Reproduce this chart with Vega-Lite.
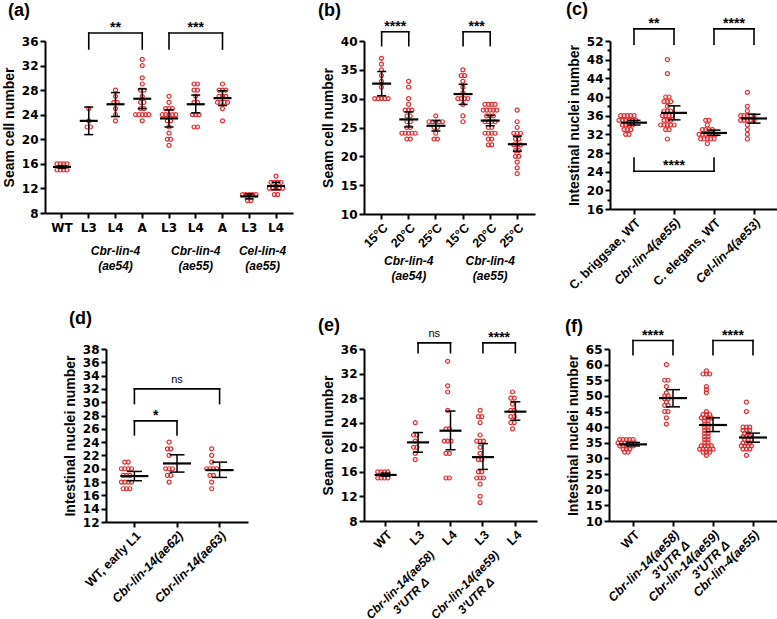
{
"$schema": "https://vega.github.io/schema/vega-lite/v6.json",
"padding": {"left": 2, "top": 0, "right": 0, "bottom": 0},
"background": "white",
"datasets": {
"pts": [
{"p":"a","c":"WT","v":15},{"p":"a","c":"WT","v":15},{"p":"a","c":"WT","v":15},{"p":"a","c":"WT","v":15},
{"p":"a","c":"WT","v":16},{"p":"a","c":"WT","v":16},{"p":"a","c":"WT","v":16},{"p":"a","c":"WT","v":16},
{"p":"a","c":"L3_54","v":25},{"p":"a","c":"L3_54","v":23},{"p":"a","c":"L3_54","v":22},{"p":"a","c":"L3_54","v":22},
{"p":"a","c":"L4_54","v":28},{"p":"a","c":"L4_54","v":27},{"p":"a","c":"L4_54","v":26},{"p":"a","c":"L4_54","v":26},{"p":"a","c":"L4_54","v":25},{"p":"a","c":"L4_54","v":24},{"p":"a","c":"L4_54","v":23},
{"p":"a","c":"A_54","v":33},{"p":"a","c":"A_54","v":32},{"p":"a","c":"A_54","v":30},{"p":"a","c":"A_54","v":29},{"p":"a","c":"A_54","v":28},{"p":"a","c":"A_54","v":28},{"p":"a","c":"A_54","v":27},{"p":"a","c":"A_54","v":26},{"p":"a","c":"A_54","v":26},{"p":"a","c":"A_54","v":25},{"p":"a","c":"A_54","v":25},{"p":"a","c":"A_54","v":24},{"p":"a","c":"A_54","v":24},{"p":"a","c":"A_54","v":24},{"p":"a","c":"A_54","v":24},{"p":"a","c":"A_54","v":24},{"p":"a","c":"A_54","v":23},
{"p":"a","c":"L3_55","v":27},{"p":"a","c":"L3_55","v":26},{"p":"a","c":"L3_55","v":25},{"p":"a","c":"L3_55","v":25},{"p":"a","c":"L3_55","v":25},{"p":"a","c":"L3_55","v":24},{"p":"a","c":"L3_55","v":24},{"p":"a","c":"L3_55","v":24},{"p":"a","c":"L3_55","v":24},{"p":"a","c":"L3_55","v":24},{"p":"a","c":"L3_55","v":23},{"p":"a","c":"L3_55","v":23},{"p":"a","c":"L3_55","v":22},{"p":"a","c":"L3_55","v":21},{"p":"a","c":"L3_55","v":20},{"p":"a","c":"L3_55","v":20},{"p":"a","c":"L3_55","v":19},
{"p":"a","c":"L4_55","v":29},{"p":"a","c":"L4_55","v":29},{"p":"a","c":"L4_55","v":28},{"p":"a","c":"L4_55","v":28},{"p":"a","c":"L4_55","v":27},{"p":"a","c":"L4_55","v":26},{"p":"a","c":"L4_55","v":26},{"p":"a","c":"L4_55","v":24},{"p":"a","c":"L4_55","v":24},{"p":"a","c":"L4_55","v":24},{"p":"a","c":"L4_55","v":22},{"p":"a","c":"L4_55","v":22},
{"p":"a","c":"A_55","v":29},{"p":"a","c":"A_55","v":28},{"p":"a","c":"A_55","v":28},{"p":"a","c":"A_55","v":28},{"p":"a","c":"A_55","v":27},{"p":"a","c":"A_55","v":27},{"p":"a","c":"A_55","v":27},{"p":"a","c":"A_55","v":26},{"p":"a","c":"A_55","v":26},{"p":"a","c":"A_55","v":26},{"p":"a","c":"A_55","v":26},{"p":"a","c":"A_55","v":25},{"p":"a","c":"A_55","v":23},
{"p":"a","c":"L3_cel","v":11},{"p":"a","c":"L3_cel","v":11},{"p":"a","c":"L3_cel","v":11},{"p":"a","c":"L3_cel","v":11},{"p":"a","c":"L3_cel","v":11},{"p":"a","c":"L3_cel","v":10},{"p":"a","c":"L3_cel","v":10},
{"p":"a","c":"L4_cel","v":14},{"p":"a","c":"L4_cel","v":13},{"p":"a","c":"L4_cel","v":13},{"p":"a","c":"L4_cel","v":13},{"p":"a","c":"L4_cel","v":13},{"p":"a","c":"L4_cel","v":12},{"p":"a","c":"L4_cel","v":12},{"p":"a","c":"L4_cel","v":12},{"p":"a","c":"L4_cel","v":12},{"p":"a","c":"L4_cel","v":12},{"p":"a","c":"L4_cel","v":11},{"p":"a","c":"L4_cel","v":11},

{"p":"b","c":"15°C_54","v":37},{"p":"b","c":"15°C_54","v":36},{"p":"b","c":"15°C_54","v":35},{"p":"b","c":"15°C_54","v":34},{"p":"b","c":"15°C_54","v":33},{"p":"b","c":"15°C_54","v":32},{"p":"b","c":"15°C_54","v":30},{"p":"b","c":"15°C_54","v":30},{"p":"b","c":"15°C_54","v":30},{"p":"b","c":"15°C_54","v":30},{"p":"b","c":"15°C_54","v":30},
{"p":"b","c":"20°C_54","v":33},{"p":"b","c":"20°C_54","v":32},{"p":"b","c":"20°C_54","v":30},{"p":"b","c":"20°C_54","v":29},{"p":"b","c":"20°C_54","v":28},{"p":"b","c":"20°C_54","v":28},{"p":"b","c":"20°C_54","v":28},{"p":"b","c":"20°C_54","v":27},{"p":"b","c":"20°C_54","v":27},{"p":"b","c":"20°C_54","v":26},{"p":"b","c":"20°C_54","v":26},{"p":"b","c":"20°C_54","v":25},{"p":"b","c":"20°C_54","v":25},{"p":"b","c":"20°C_54","v":24},{"p":"b","c":"20°C_54","v":24},{"p":"b","c":"20°C_54","v":24},{"p":"b","c":"20°C_54","v":24},{"p":"b","c":"20°C_54","v":24},{"p":"b","c":"20°C_54","v":23},{"p":"b","c":"20°C_54","v":23},
{"p":"b","c":"25°C_54","v":27},{"p":"b","c":"25°C_54","v":26},{"p":"b","c":"25°C_54","v":26},{"p":"b","c":"25°C_54","v":26},{"p":"b","c":"25°C_54","v":26},{"p":"b","c":"25°C_54","v":26},{"p":"b","c":"25°C_54","v":25},{"p":"b","c":"25°C_54","v":25},{"p":"b","c":"25°C_54","v":24},{"p":"b","c":"25°C_54","v":23},{"p":"b","c":"25°C_54","v":23},
{"p":"b","c":"15°C_55","v":35},{"p":"b","c":"15°C_55","v":34},{"p":"b","c":"15°C_55","v":34},{"p":"b","c":"15°C_55","v":33},{"p":"b","c":"15°C_55","v":32},{"p":"b","c":"15°C_55","v":31},{"p":"b","c":"15°C_55","v":30},{"p":"b","c":"15°C_55","v":30},{"p":"b","c":"15°C_55","v":30},{"p":"b","c":"15°C_55","v":30},{"p":"b","c":"15°C_55","v":29},{"p":"b","c":"15°C_55","v":27},{"p":"b","c":"15°C_55","v":26},
{"p":"b","c":"20°C_55","v":29},{"p":"b","c":"20°C_55","v":29},{"p":"b","c":"20°C_55","v":29},{"p":"b","c":"20°C_55","v":29},{"p":"b","c":"20°C_55","v":28},{"p":"b","c":"20°C_55","v":28},{"p":"b","c":"20°C_55","v":28},{"p":"b","c":"20°C_55","v":28},{"p":"b","c":"20°C_55","v":28},{"p":"b","c":"20°C_55","v":27},{"p":"b","c":"20°C_55","v":27},{"p":"b","c":"20°C_55","v":27},{"p":"b","c":"20°C_55","v":26},{"p":"b","c":"20°C_55","v":26},{"p":"b","c":"20°C_55","v":26},{"p":"b","c":"20°C_55","v":26},{"p":"b","c":"20°C_55","v":25},{"p":"b","c":"20°C_55","v":25},{"p":"b","c":"20°C_55","v":24},{"p":"b","c":"20°C_55","v":24},{"p":"b","c":"20°C_55","v":24},{"p":"b","c":"20°C_55","v":24},{"p":"b","c":"20°C_55","v":23},{"p":"b","c":"20°C_55","v":23},{"p":"b","c":"20°C_55","v":22},{"p":"b","c":"20°C_55","v":22},
{"p":"b","c":"25°C_55","v":28},{"p":"b","c":"25°C_55","v":26},{"p":"b","c":"25°C_55","v":25},{"p":"b","c":"25°C_55","v":24},{"p":"b","c":"25°C_55","v":24},{"p":"b","c":"25°C_55","v":24},{"p":"b","c":"25°C_55","v":23},{"p":"b","c":"25°C_55","v":23},{"p":"b","c":"25°C_55","v":22},{"p":"b","c":"25°C_55","v":22},{"p":"b","c":"25°C_55","v":22},{"p":"b","c":"25°C_55","v":21},{"p":"b","c":"25°C_55","v":21},{"p":"b","c":"25°C_55","v":20},{"p":"b","c":"25°C_55","v":20},{"p":"b","c":"25°C_55","v":19},{"p":"b","c":"25°C_55","v":18},{"p":"b","c":"25°C_55","v":17},

{"p":"c","c":"C. briggsae, WT","v":36},{"p":"c","c":"C. briggsae, WT","v":36},{"p":"c","c":"C. briggsae, WT","v":36},{"p":"c","c":"C. briggsae, WT","v":36},{"p":"c","c":"C. briggsae, WT","v":36},{"p":"c","c":"C. briggsae, WT","v":35},{"p":"c","c":"C. briggsae, WT","v":35},{"p":"c","c":"C. briggsae, WT","v":35},{"p":"c","c":"C. briggsae, WT","v":35},{"p":"c","c":"C. briggsae, WT","v":35},{"p":"c","c":"C. briggsae, WT","v":35},{"p":"c","c":"C. briggsae, WT","v":34},{"p":"c","c":"C. briggsae, WT","v":34},{"p":"c","c":"C. briggsae, WT","v":34},{"p":"c","c":"C. briggsae, WT","v":34},{"p":"c","c":"C. briggsae, WT","v":33},{"p":"c","c":"C. briggsae, WT","v":33},{"p":"c","c":"C. briggsae, WT","v":33},{"p":"c","c":"C. briggsae, WT","v":32},{"p":"c","c":"C. briggsae, WT","v":32},
{"p":"c","c":"Cbr-lin-4(ae55)","v":48},{"p":"c","c":"Cbr-lin-4(ae55)","v":45},{"p":"c","c":"Cbr-lin-4(ae55)","v":40},{"p":"c","c":"Cbr-lin-4(ae55)","v":40},{"p":"c","c":"Cbr-lin-4(ae55)","v":39},{"p":"c","c":"Cbr-lin-4(ae55)","v":39},{"p":"c","c":"Cbr-lin-4(ae55)","v":39},{"p":"c","c":"Cbr-lin-4(ae55)","v":38},{"p":"c","c":"Cbr-lin-4(ae55)","v":37},{"p":"c","c":"Cbr-lin-4(ae55)","v":37},{"p":"c","c":"Cbr-lin-4(ae55)","v":37},{"p":"c","c":"Cbr-lin-4(ae55)","v":36},{"p":"c","c":"Cbr-lin-4(ae55)","v":36},{"p":"c","c":"Cbr-lin-4(ae55)","v":36},{"p":"c","c":"Cbr-lin-4(ae55)","v":36},{"p":"c","c":"Cbr-lin-4(ae55)","v":35},{"p":"c","c":"Cbr-lin-4(ae55)","v":35},{"p":"c","c":"Cbr-lin-4(ae55)","v":35},{"p":"c","c":"Cbr-lin-4(ae55)","v":34},{"p":"c","c":"Cbr-lin-4(ae55)","v":34},{"p":"c","c":"Cbr-lin-4(ae55)","v":34},{"p":"c","c":"Cbr-lin-4(ae55)","v":34},{"p":"c","c":"Cbr-lin-4(ae55)","v":34},{"p":"c","c":"Cbr-lin-4(ae55)","v":33},{"p":"c","c":"Cbr-lin-4(ae55)","v":33},{"p":"c","c":"Cbr-lin-4(ae55)","v":31},
{"p":"c","c":"C. elegans, WT","v":35},{"p":"c","c":"C. elegans, WT","v":35},{"p":"c","c":"C. elegans, WT","v":34},{"p":"c","c":"C. elegans, WT","v":33},{"p":"c","c":"C. elegans, WT","v":33},{"p":"c","c":"C. elegans, WT","v":33},{"p":"c","c":"C. elegans, WT","v":33},{"p":"c","c":"C. elegans, WT","v":32},{"p":"c","c":"C. elegans, WT","v":32},{"p":"c","c":"C. elegans, WT","v":32},{"p":"c","c":"C. elegans, WT","v":32},{"p":"c","c":"C. elegans, WT","v":32},{"p":"c","c":"C. elegans, WT","v":32},{"p":"c","c":"C. elegans, WT","v":31},{"p":"c","c":"C. elegans, WT","v":31},{"p":"c","c":"C. elegans, WT","v":31},{"p":"c","c":"C. elegans, WT","v":31},{"p":"c","c":"C. elegans, WT","v":31},{"p":"c","c":"C. elegans, WT","v":30},
{"p":"c","c":"Cel-lin-4(ae53)","v":41},{"p":"c","c":"Cel-lin-4(ae53)","v":38},{"p":"c","c":"Cel-lin-4(ae53)","v":37},{"p":"c","c":"Cel-lin-4(ae53)","v":36},{"p":"c","c":"Cel-lin-4(ae53)","v":36},{"p":"c","c":"Cel-lin-4(ae53)","v":36},{"p":"c","c":"Cel-lin-4(ae53)","v":36},{"p":"c","c":"Cel-lin-4(ae53)","v":36},{"p":"c","c":"Cel-lin-4(ae53)","v":35},{"p":"c","c":"Cel-lin-4(ae53)","v":35},{"p":"c","c":"Cel-lin-4(ae53)","v":35},{"p":"c","c":"Cel-lin-4(ae53)","v":35},{"p":"c","c":"Cel-lin-4(ae53)","v":35},{"p":"c","c":"Cel-lin-4(ae53)","v":34},{"p":"c","c":"Cel-lin-4(ae53)","v":33},{"p":"c","c":"Cel-lin-4(ae53)","v":32},{"p":"c","c":"Cel-lin-4(ae53)","v":31},

{"p":"d","c":"WT, early L1","v":21},{"p":"d","c":"WT, early L1","v":21},{"p":"d","c":"WT, early L1","v":20},{"p":"d","c":"WT, early L1","v":20},{"p":"d","c":"WT, early L1","v":20},{"p":"d","c":"WT, early L1","v":20},{"p":"d","c":"WT, early L1","v":19},{"p":"d","c":"WT, early L1","v":19},{"p":"d","c":"WT, early L1","v":19},{"p":"d","c":"WT, early L1","v":18},{"p":"d","c":"WT, early L1","v":18},{"p":"d","c":"WT, early L1","v":18},{"p":"d","c":"WT, early L1","v":18},{"p":"d","c":"WT, early L1","v":17},{"p":"d","c":"WT, early L1","v":17},{"p":"d","c":"WT, early L1","v":17},
{"p":"d","c":"Cbr-lin-14(ae62)","v":24},{"p":"d","c":"Cbr-lin-14(ae62)","v":23},{"p":"d","c":"Cbr-lin-14(ae62)","v":23},{"p":"d","c":"Cbr-lin-14(ae62)","v":22},{"p":"d","c":"Cbr-lin-14(ae62)","v":20},{"p":"d","c":"Cbr-lin-14(ae62)","v":20},{"p":"d","c":"Cbr-lin-14(ae62)","v":20},{"p":"d","c":"Cbr-lin-14(ae62)","v":19},{"p":"d","c":"Cbr-lin-14(ae62)","v":19},{"p":"d","c":"Cbr-lin-14(ae62)","v":18},
{"p":"d","c":"Cbr-lin-14(ae63)","v":23},{"p":"d","c":"Cbr-lin-14(ae63)","v":22},{"p":"d","c":"Cbr-lin-14(ae63)","v":21},{"p":"d","c":"Cbr-lin-14(ae63)","v":20},{"p":"d","c":"Cbr-lin-14(ae63)","v":20},{"p":"d","c":"Cbr-lin-14(ae63)","v":20},{"p":"d","c":"Cbr-lin-14(ae63)","v":20},{"p":"d","c":"Cbr-lin-14(ae63)","v":19},{"p":"d","c":"Cbr-lin-14(ae63)","v":19},{"p":"d","c":"Cbr-lin-14(ae63)","v":18},{"p":"d","c":"Cbr-lin-14(ae63)","v":17},

{"p":"e","c":"WT","v":16},{"p":"e","c":"WT","v":16},{"p":"e","c":"WT","v":16},{"p":"e","c":"WT","v":16},{"p":"e","c":"WT","v":15},{"p":"e","c":"WT","v":15},{"p":"e","c":"WT","v":15},{"p":"e","c":"WT","v":15},
{"p":"e","c":"L3_58","v":24},{"p":"e","c":"L3_58","v":22},{"p":"e","c":"L3_58","v":22},{"p":"e","c":"L3_58","v":21},{"p":"e","c":"L3_58","v":20},{"p":"e","c":"L3_58","v":20},{"p":"e","c":"L3_58","v":19},{"p":"e","c":"L3_58","v":18},
{"p":"e","c":"L4_58","v":34},{"p":"e","c":"L4_58","v":30},{"p":"e","c":"L4_58","v":29},{"p":"e","c":"L4_58","v":26},{"p":"e","c":"L4_58","v":23},{"p":"e","c":"L4_58","v":23},{"p":"e","c":"L4_58","v":21},{"p":"e","c":"L4_58","v":21},{"p":"e","c":"L4_58","v":21},{"p":"e","c":"L4_58","v":19},{"p":"e","c":"L4_58","v":19},{"p":"e","c":"L4_58","v":15},{"p":"e","c":"L4_58","v":15},
{"p":"e","c":"L3_59","v":26},{"p":"e","c":"L3_59","v":25},{"p":"e","c":"L3_59","v":25},{"p":"e","c":"L3_59","v":24},{"p":"e","c":"L3_59","v":22},{"p":"e","c":"L3_59","v":21},{"p":"e","c":"L3_59","v":21},{"p":"e","c":"L3_59","v":21},{"p":"e","c":"L3_59","v":20},{"p":"e","c":"L3_59","v":19},{"p":"e","c":"L3_59","v":18},{"p":"e","c":"L3_59","v":18},{"p":"e","c":"L3_59","v":16},{"p":"e","c":"L3_59","v":16},{"p":"e","c":"L3_59","v":15},{"p":"e","c":"L3_59","v":15},{"p":"e","c":"L3_59","v":15},{"p":"e","c":"L3_59","v":14},{"p":"e","c":"L3_59","v":12},{"p":"e","c":"L3_59","v":11},
{"p":"e","c":"L4_59","v":29},{"p":"e","c":"L4_59","v":28},{"p":"e","c":"L4_59","v":28},{"p":"e","c":"L4_59","v":27},{"p":"e","c":"L4_59","v":26},{"p":"e","c":"L4_59","v":26},{"p":"e","c":"L4_59","v":25},{"p":"e","c":"L4_59","v":25},{"p":"e","c":"L4_59","v":24},{"p":"e","c":"L4_59","v":24},{"p":"e","c":"L4_59","v":23},

{"p":"f","c":"WT","v":36},{"p":"f","c":"WT","v":36},{"p":"f","c":"WT","v":36},{"p":"f","c":"WT","v":36},{"p":"f","c":"WT","v":36},{"p":"f","c":"WT","v":35},{"p":"f","c":"WT","v":35},{"p":"f","c":"WT","v":35},{"p":"f","c":"WT","v":35},{"p":"f","c":"WT","v":35},{"p":"f","c":"WT","v":35},{"p":"f","c":"WT","v":34},{"p":"f","c":"WT","v":34},{"p":"f","c":"WT","v":34},{"p":"f","c":"WT","v":34},{"p":"f","c":"WT","v":34},{"p":"f","c":"WT","v":33},{"p":"f","c":"WT","v":33},{"p":"f","c":"WT","v":33},{"p":"f","c":"WT","v":32},{"p":"f","c":"WT","v":32},
{"p":"f","c":"Cbr-lin-14(ae58)|3'UTR Δ","v":60},{"p":"f","c":"Cbr-lin-14(ae58)|3'UTR Δ","v":55},{"p":"f","c":"Cbr-lin-14(ae58)|3'UTR Δ","v":55},{"p":"f","c":"Cbr-lin-14(ae58)|3'UTR Δ","v":53},{"p":"f","c":"Cbr-lin-14(ae58)|3'UTR Δ","v":51},{"p":"f","c":"Cbr-lin-14(ae58)|3'UTR Δ","v":50},{"p":"f","c":"Cbr-lin-14(ae58)|3'UTR Δ","v":50},{"p":"f","c":"Cbr-lin-14(ae58)|3'UTR Δ","v":49},{"p":"f","c":"Cbr-lin-14(ae58)|3'UTR Δ","v":49},{"p":"f","c":"Cbr-lin-14(ae58)|3'UTR Δ","v":48},{"p":"f","c":"Cbr-lin-14(ae58)|3'UTR Δ","v":47},{"p":"f","c":"Cbr-lin-14(ae58)|3'UTR Δ","v":47},{"p":"f","c":"Cbr-lin-14(ae58)|3'UTR Δ","v":45},{"p":"f","c":"Cbr-lin-14(ae58)|3'UTR Δ","v":45},{"p":"f","c":"Cbr-lin-14(ae58)|3'UTR Δ","v":43},{"p":"f","c":"Cbr-lin-14(ae58)|3'UTR Δ","v":41},
{"p":"f","c":"Cbr-lin-14(ae59)|3'UTR Δ","v":58},{"p":"f","c":"Cbr-lin-14(ae59)|3'UTR Δ","v":57},{"p":"f","c":"Cbr-lin-14(ae59)|3'UTR Δ","v":57},{"p":"f","c":"Cbr-lin-14(ae59)|3'UTR Δ","v":57},{"p":"f","c":"Cbr-lin-14(ae59)|3'UTR Δ","v":53},{"p":"f","c":"Cbr-lin-14(ae59)|3'UTR Δ","v":52},{"p":"f","c":"Cbr-lin-14(ae59)|3'UTR Δ","v":51},{"p":"f","c":"Cbr-lin-14(ae59)|3'UTR Δ","v":45},{"p":"f","c":"Cbr-lin-14(ae59)|3'UTR Δ","v":44},{"p":"f","c":"Cbr-lin-14(ae59)|3'UTR Δ","v":44},{"p":"f","c":"Cbr-lin-14(ae59)|3'UTR Δ","v":44},{"p":"f","c":"Cbr-lin-14(ae59)|3'UTR Δ","v":43},{"p":"f","c":"Cbr-lin-14(ae59)|3'UTR Δ","v":43},{"p":"f","c":"Cbr-lin-14(ae59)|3'UTR Δ","v":43},{"p":"f","c":"Cbr-lin-14(ae59)|3'UTR Δ","v":43},{"p":"f","c":"Cbr-lin-14(ae59)|3'UTR Δ","v":42},{"p":"f","c":"Cbr-lin-14(ae59)|3'UTR Δ","v":42},{"p":"f","c":"Cbr-lin-14(ae59)|3'UTR Δ","v":41},{"p":"f","c":"Cbr-lin-14(ae59)|3'UTR Δ","v":41},{"p":"f","c":"Cbr-lin-14(ae59)|3'UTR Δ","v":40},{"p":"f","c":"Cbr-lin-14(ae59)|3'UTR Δ","v":40},{"p":"f","c":"Cbr-lin-14(ae59)|3'UTR Δ","v":39},{"p":"f","c":"Cbr-lin-14(ae59)|3'UTR Δ","v":39},{"p":"f","c":"Cbr-lin-14(ae59)|3'UTR Δ","v":38},{"p":"f","c":"Cbr-lin-14(ae59)|3'UTR Δ","v":38},{"p":"f","c":"Cbr-lin-14(ae59)|3'UTR Δ","v":37},{"p":"f","c":"Cbr-lin-14(ae59)|3'UTR Δ","v":37},{"p":"f","c":"Cbr-lin-14(ae59)|3'UTR Δ","v":36},{"p":"f","c":"Cbr-lin-14(ae59)|3'UTR Δ","v":36},{"p":"f","c":"Cbr-lin-14(ae59)|3'UTR Δ","v":35},{"p":"f","c":"Cbr-lin-14(ae59)|3'UTR Δ","v":35},{"p":"f","c":"Cbr-lin-14(ae59)|3'UTR Δ","v":34},{"p":"f","c":"Cbr-lin-14(ae59)|3'UTR Δ","v":34},{"p":"f","c":"Cbr-lin-14(ae59)|3'UTR Δ","v":34},{"p":"f","c":"Cbr-lin-14(ae59)|3'UTR Δ","v":34},{"p":"f","c":"Cbr-lin-14(ae59)|3'UTR Δ","v":33},{"p":"f","c":"Cbr-lin-14(ae59)|3'UTR Δ","v":33},{"p":"f","c":"Cbr-lin-14(ae59)|3'UTR Δ","v":33},{"p":"f","c":"Cbr-lin-14(ae59)|3'UTR Δ","v":33},{"p":"f","c":"Cbr-lin-14(ae59)|3'UTR Δ","v":33},{"p":"f","c":"Cbr-lin-14(ae59)|3'UTR Δ","v":32},{"p":"f","c":"Cbr-lin-14(ae59)|3'UTR Δ","v":32},{"p":"f","c":"Cbr-lin-14(ae59)|3'UTR Δ","v":32},{"p":"f","c":"Cbr-lin-14(ae59)|3'UTR Δ","v":31},
{"p":"f","c":"Cbr-lin-4(ae55)","v":48},{"p":"f","c":"Cbr-lin-4(ae55)","v":45},{"p":"f","c":"Cbr-lin-4(ae55)","v":40},{"p":"f","c":"Cbr-lin-4(ae55)","v":40},{"p":"f","c":"Cbr-lin-4(ae55)","v":40},{"p":"f","c":"Cbr-lin-4(ae55)","v":39},{"p":"f","c":"Cbr-lin-4(ae55)","v":39},{"p":"f","c":"Cbr-lin-4(ae55)","v":39},{"p":"f","c":"Cbr-lin-4(ae55)","v":38},{"p":"f","c":"Cbr-lin-4(ae55)","v":38},{"p":"f","c":"Cbr-lin-4(ae55)","v":37},{"p":"f","c":"Cbr-lin-4(ae55)","v":37},{"p":"f","c":"Cbr-lin-4(ae55)","v":37},{"p":"f","c":"Cbr-lin-4(ae55)","v":36},{"p":"f","c":"Cbr-lin-4(ae55)","v":36},{"p":"f","c":"Cbr-lin-4(ae55)","v":35},{"p":"f","c":"Cbr-lin-4(ae55)","v":35},{"p":"f","c":"Cbr-lin-4(ae55)","v":35},{"p":"f","c":"Cbr-lin-4(ae55)","v":34},{"p":"f","c":"Cbr-lin-4(ae55)","v":34},{"p":"f","c":"Cbr-lin-4(ae55)","v":34},{"p":"f","c":"Cbr-lin-4(ae55)","v":34},{"p":"f","c":"Cbr-lin-4(ae55)","v":33},{"p":"f","c":"Cbr-lin-4(ae55)","v":33},{"p":"f","c":"Cbr-lin-4(ae55)","v":33},{"p":"f","c":"Cbr-lin-4(ae55)","v":31}
],
"sum": [
{"p":"a","c":"WT","m":15.5,"lo":15.3,"hi":15.7},{"p":"a","c":"L3_54","m":23.0,"lo":20.76,"hi":25.25},{"p":"a","c":"L4_54","m":25.7,"lo":23.7,"hi":27.6},{"p":"a","c":"A_54","m":26.6,"lo":25.0,"hi":28.2},{"p":"a","c":"L3_55","m":23.4,"lo":22.0,"hi":24.8},{"p":"a","c":"L4_55","m":25.7,"lo":24.3,"hi":27.2},{"p":"a","c":"A_55","m":26.7,"lo":25.5,"hi":27.9},{"p":"a","c":"L3_cel","m":10.7,"lo":10.3,"hi":11.1},{"p":"a","c":"L4_cel","m":12.4,"lo":11.8,"hi":13.0},
{"p":"b","c":"15°C_54","m":32.6,"lo":30.5,"hi":34.7},{"p":"b","c":"20°C_54","m":26.4,"lo":25.1,"hi":27.7},{"p":"b","c":"25°C_54","m":25.3,"lo":24.4,"hi":26.2},{"p":"b","c":"15°C_55","m":30.8,"lo":29.0,"hi":32.5},{"p":"b","c":"20°C_55","m":26.2,"lo":25.3,"hi":27.1},{"p":"b","c":"25°C_55","m":22.1,"lo":20.9,"hi":23.5},
{"p":"c","c":"C. briggsae, WT","m":34.5,"lo":34.0,"hi":35.0},{"p":"c","c":"Cbr-lin-4(ae55)","m":36.6,"lo":35.1,"hi":38.1},{"p":"c","c":"C. elegans, WT","m":32.3,"lo":31.8,"hi":32.9},{"p":"c","c":"Cel-lin-4(ae53)","m":35.4,"lo":34.4,"hi":36.3},
{"p":"d","c":"WT, early L1","m":18.9,"lo":18.2,"hi":19.6},{"p":"d","c":"Cbr-lin-14(ae62)","m":20.8,"lo":19.5,"hi":22.1},{"p":"d","c":"Cbr-lin-14(ae63)","m":19.8,"lo":18.7,"hi":21.0},
{"p":"e","c":"WT","m":15.5,"lo":15.3,"hi":15.8},{"p":"e","c":"L3_58","m":20.8,"lo":19.2,"hi":22.4},{"p":"e","c":"L4_58","m":22.7,"lo":19.6,"hi":25.9},{"p":"e","c":"L3_59","m":18.4,"lo":16.4,"hi":20.6},{"p":"e","c":"L4_59","m":25.8,"lo":24.4,"hi":27.4},
{"p":"f","c":"WT","m":34.5,"lo":34.0,"hi":35.1},{"p":"f","c":"Cbr-lin-14(ae58)|3'UTR Δ","m":49.3,"lo":46.5,"hi":52.0},{"p":"f","c":"Cbr-lin-14(ae59)|3'UTR Δ","m":40.7,"lo":38.6,"hi":43.0},{"p":"f","c":"Cbr-lin-4(ae55)","m":36.7,"lo":35.2,"hi":38.1}
],
"br": [
{"p":"a","c1":"L3_54","c2":"A_54","cm":"L4_54","top":37.3,"end":34.7,"lab":"**"},
{"p":"a","c1":"L3_55","c2":"A_55","cm":"L4_55","top":37.3,"end":34.7,"lab":"***"},
{"p":"b","c1":"15°C_54","c2":"20°C_54","top":41.6,"end":39.2,"lab":"****"},
{"p":"b","c1":"15°C_55","c2":"20°C_55","top":41.6,"end":39.2,"lab":"***"},
{"p":"c","c1":"C. briggsae, WT","c2":"Cbr-lin-4(ae55)","top":54.6,"end":51.3,"lab":"**"},
{"p":"c","c1":"C. elegans, WT","c2":"Cel-lin-4(ae53)","top":54.6,"end":51.3,"lab":"****"},
{"p":"c","c1":"C. briggsae, WT","c2":"C. elegans, WT","cm":"Cbr-lin-4(ae55)","top":24.1,"end":26.9,"lab":"****"},
{"p":"d","c1":"WT, early L1","c2":"Cbr-lin-14(ae62)","top":27.2,"end":25.1,"lab":"*"},
{"p":"d","c1":"WT, early L1","c2":"Cbr-lin-14(ae63)","cm":"Cbr-lin-14(ae62)","top":32.0,"end":29.8,"lab":"ns"},
{"p":"e","c1":"L3_58","c2":"L4_58","top":37.0,"end":35.4,"lab":"ns"},
{"p":"e","c1":"L3_59","c2":"L4_59","top":37.0,"end":35.4,"lab":"****"},
{"p":"f","c1":"WT","c2":"Cbr-lin-14(ae58)|3'UTR Δ","top":67.7,"end":63.2,"lab":"****"},
{"p":"f","c1":"Cbr-lin-14(ae59)|3'UTR Δ","c2":"Cbr-lin-4(ae55)","top":67.7,"end":63.2,"lab":"****"}
],
"grp": [
{"p":"a","c":"L4_54","t":"Cbr-lin-4|(ae54)"},
{"p":"a","c":"L4_55","t":"Cbr-lin-4|(ae55)"},
{"p":"a","c1":"L3_cel","t":"Cel-lin-4|(ae55)"},
{"p":"b","c":"20°C_54","t":"Cbr-lin-4|(ae54)"},
{"p":"b","c":"20°C_55","t":"Cbr-lin-4|(ae55)"},
{"p":"e","c1":"L3_58","t":"Cbr-lin-14(ae58)|3'UTR Δ"},
{"p":"e","c1":"L3_59","t":"Cbr-lin-14(ae59)|3'UTR Δ"}
]
},
"spacing": 18,
"vconcat": [
{"hconcat": [
{
"width": 248, "height": 172,
"title": {"text": "(a)", "anchor": "start", "frame": "group", "dx": -37, "fontSize": 18, "fontWeight": "bold", "baseline": "bottom", "offset": -17},
"layer": [
{"data": {"name": "pts"},
"transform": [{"filter": "datum.p=='a'"},{"window": [{"op": "row_number", "as": "r"}], "groupby": ["c","v"]},{"joinaggregate": [{"op": "count", "as": "n"}], "groupby": ["c","v"]},{"calculate": "datum.r-(datum.n+1)/2", "as": "o"}],
"mark": {"type": "point", "shape": "circle", "filled": false, "size": 16, "strokeWidth": 1.2, "color": "#e62b2f", "opacity": 1},
"encoding": {
"x": {"field": "c", "type": "nominal", "scale": {"type": "band", "domain": ["WT","L3_54","L4_54","A_54","L3_55","L4_55","A_55","L3_cel","L4_cel"], "paddingInner": 0, "paddingOuter": 0.1355}, "axis": {"title": null, "labelExpr": "split(datum.value,'_')[0]", "labelAngle": 0, "labelPadding": 4, "labelFont": "DejaVu Sans", "labelFontSize": 12}},
"xOffset": {"field": "o", "type": "quantitative", "scale": {"domain": [-2.97, 2.97], "range": [0, 26.75]}},
"y": {"field": "v", "type": "quantitative", "scale": {"domain": [8, 36], "nice": false, "zero": false}, "axis": {"title": "Seam cell number", "values": [8,12,16,20,24,28,32,36], "tickCount": 100, "format": "d", "labelOverlap": false}}}},
{"data": {"name": "sum"}, "transform": [{"filter": "datum.p=='a'"}],
"encoding": {"x": {"field": "c", "type": "nominal"}},
"layer": [
{"mark": {"type": "rule", "color": "black", "strokeWidth": 1.5}, "encoding": {"y": {"field": "lo", "type": "quantitative"}, "y2": {"field": "hi"}}},
{"mark": {"type": "tick", "color": "black", "size": 18, "thickness": 2.2, "opacity": 1}, "encoding": {"y": {"field": "m", "type": "quantitative"}}},
{"mark": {"type": "tick", "color": "black", "size": 9, "thickness": 1.5, "opacity": 1}, "encoding": {"y": {"field": "lo", "type": "quantitative"}}},
{"mark": {"type": "tick", "color": "black", "size": 9, "thickness": 1.5, "opacity": 1}, "encoding": {"y": {"field": "hi", "type": "quantitative"}}}]},
{"data": {"name": "br"}, "transform": [{"filter": "datum.p=='a'"}],
"layer": [
{"mark": {"type": "rule", "color": "black", "strokeWidth": 1.6, "strokeCap": "square"}, "encoding": {"x": {"field": "c1", "type": "nominal", "bandPosition": 0.5}, "x2": {"field": "c2", "bandPosition": 0.5}, "y": {"field": "top", "type": "quantitative"}}},
{"mark": {"type": "rule", "color": "black", "strokeWidth": 1.6, "strokeCap": "square"}, "encoding": {"x": {"field": "c1", "type": "nominal", "bandPosition": 0.5}, "y": {"field": "top", "type": "quantitative"}, "y2": {"field": "end"}}},
{"mark": {"type": "rule", "color": "black", "strokeWidth": 1.6, "strokeCap": "square"}, "encoding": {"x": {"field": "c2", "type": "nominal", "bandPosition": 0.5}, "y": {"field": "top", "type": "quantitative"}, "y2": {"field": "end"}}},
{"mark": {"type": "text", "fontSize": 14, "fontWeight": "bold", "baseline": "alphabetic", "dy": -1, "color": "black"}, "encoding": {"x": {"field": "cm", "type": "nominal", "bandPosition": 0.5}, "y": {"field": "top", "type": "quantitative"}, "text": {"field": "lab"}}}]},
{"data": {"name": "grp"}, "transform": [{"filter": "datum.p=='a' && isValid(datum.c)"},{"calculate": "split(datum.t,'|')", "as": "tl"}],
"mark": {"type": "text", "fontSize": 12, "fontWeight": "bold", "fontStyle": "italic", "baseline": "top", "dy": 33, "lineHeight": 15, "color": "black"},
"encoding": {"x": {"field": "c", "type": "nominal", "bandPosition": 0.5}, "y": {"datum": 8, "type": "quantitative"}, "text": {"field": "tl"}}},
{"data": {"name": "grp"}, "transform": [{"filter": "datum.p=='a' && isValid(datum.c1)"},{"calculate": "split(datum.t,'|')", "as": "tl"}],
"mark": {"type": "text", "fontSize": 12, "fontWeight": "bold", "fontStyle": "italic", "baseline": "top", "dy": 33, "lineHeight": 15, "color": "black"},
"encoding": {"x": {"field": "c1", "type": "nominal", "bandPosition": 1}, "y": {"datum": 8, "type": "quantitative"}, "text": {"field": "tl"}}}
]
},
{"width": 71, "height": 1, "data": {"values": []}, "mark": "point"},
{
"width": 171, "height": 173,
"title": {"text": "(b)", "anchor": "start", "frame": "group", "dx": -46, "fontSize": 18, "fontWeight": "bold", "baseline": "bottom", "offset": -18},
"layer": [
{"data": {"name": "pts"},
"transform": [{"filter": "datum.p=='b'"},{"window": [{"op": "row_number", "as": "r"}], "groupby": ["c","v"]},{"joinaggregate": [{"op": "count", "as": "n"}], "groupby": ["c","v"]},{"calculate": "datum.r-(datum.n+1)/2", "as": "o"}],
"mark": {"type": "point", "shape": "circle", "filled": false, "size": 16, "strokeWidth": 1.2, "color": "#e62b2f", "opacity": 1},
"encoding": {
"x": {"field": "c", "type": "nominal", "scale": {"type": "band", "domain": ["15°C_54","20°C_54","25°C_54","15°C_55","20°C_55","25°C_55"], "paddingInner": 0, "paddingOuter": 0.15}, "axis": {"title": null, "labelExpr": "split(datum.value,'_')[0]", "labelAngle": -45}},
"xOffset": {"field": "o", "type": "quantitative", "scale": {"domain": [-3.02, 3.02], "range": [0, 27.14]}},
"y": {"field": "v", "type": "quantitative", "scale": {"domain": [10, 40], "nice": false, "zero": false}, "axis": {"title": "Seam cell number", "values": [10,15,20,25,30,35,40], "tickCount": 100, "format": "d", "labelOverlap": false}}}},
{"data": {"name": "sum"}, "transform": [{"filter": "datum.p=='b'"}],
"encoding": {"x": {"field": "c", "type": "nominal"}},
"layer": [
{"mark": {"type": "rule", "color": "black", "strokeWidth": 1.5}, "encoding": {"y": {"field": "lo", "type": "quantitative"}, "y2": {"field": "hi"}}},
{"mark": {"type": "tick", "color": "black", "size": 19, "thickness": 2.2, "opacity": 1}, "encoding": {"y": {"field": "m", "type": "quantitative"}}},
{"mark": {"type": "tick", "color": "black", "size": 9, "thickness": 1.5, "opacity": 1}, "encoding": {"y": {"field": "lo", "type": "quantitative"}}},
{"mark": {"type": "tick", "color": "black", "size": 9, "thickness": 1.5, "opacity": 1}, "encoding": {"y": {"field": "hi", "type": "quantitative"}}}]},
{"data": {"name": "br"}, "transform": [{"filter": "datum.p=='b'"}],
"layer": [
{"mark": {"type": "rule", "color": "black", "strokeWidth": 1.6, "strokeCap": "square"}, "encoding": {"x": {"field": "c1", "type": "nominal", "bandPosition": 0.5}, "x2": {"field": "c2", "bandPosition": 0.5}, "y": {"field": "top", "type": "quantitative"}}},
{"mark": {"type": "rule", "color": "black", "strokeWidth": 1.6, "strokeCap": "square"}, "encoding": {"x": {"field": "c1", "type": "nominal", "bandPosition": 0.5}, "y": {"field": "top", "type": "quantitative"}, "y2": {"field": "end"}}},
{"mark": {"type": "rule", "color": "black", "strokeWidth": 1.6, "strokeCap": "square"}, "encoding": {"x": {"field": "c2", "type": "nominal", "bandPosition": 0.5}, "y": {"field": "top", "type": "quantitative"}, "y2": {"field": "end"}}},
{"mark": {"type": "text", "fontSize": 14, "fontWeight": "bold", "baseline": "alphabetic", "dy": -1, "color": "black"}, "encoding": {"x": {"field": "c1", "type": "nominal", "bandPosition": 1}, "y": {"field": "top", "type": "quantitative"}, "text": {"field": "lab"}}}]},
{"data": {"name": "grp"}, "transform": [{"filter": "datum.p=='b'"},{"calculate": "split(datum.t,'|')", "as": "tl"}],
"mark": {"type": "text", "fontSize": 12, "fontWeight": "bold", "fontStyle": "italic", "baseline": "top", "dy": 42, "lineHeight": 15, "color": "black"},
"encoding": {"x": {"field": "c", "type": "nominal", "bandPosition": 0.5}, "y": {"datum": 10, "type": "quantitative"}, "text": {"field": "tl"}}}
]
},
{"width": 75, "height": 1, "data": {"values": []}, "mark": "point"},
{
"width": 168, "height": 168,
"title": {"text": "(c)", "anchor": "start", "frame": "group", "dx": -44, "fontSize": 18, "fontWeight": "bold", "baseline": "bottom", "offset": -20},
"layer": [
{"data": {"name": "pts"},
"transform": [{"filter": "datum.p=='c'"},{"window": [{"op": "row_number", "as": "r"}], "groupby": ["c","v"]},{"joinaggregate": [{"op": "count", "as": "n"}], "groupby": ["c","v"]},{"calculate": "datum.r-(datum.n+1)/2", "as": "o"}],
"mark": {"type": "point", "shape": "circle", "filled": false, "size": 16, "strokeWidth": 1.2, "color": "#e62b2f", "opacity": 1},
"encoding": {
"x": {"field": "c", "type": "nominal", "scale": {"type": "band", "domain": ["C. briggsae, WT","Cbr-lin-4(ae55)","C. elegans, WT","Cel-lin-4(ae53)"], "paddingInner": 0, "paddingOuter": 0.1}, "axis": {"title": null, "labelAngle": -45, "labelFontStyle": {"condition": {"test": "indexof(datum.value,'lin')>=0", "value": "italic"}, "value": "normal"}}},
"xOffset": {"field": "o", "type": "quantitative", "scale": {"domain": [-4, 4], "range": [0, 40]}},
"y": {"field": "v", "type": "quantitative", "scale": {"domain": [16, 52], "nice": false, "zero": false}, "axis": {"title": "Intestinal nuclei number", "values": [16,18,20,22,24,26,28,30,32,34,36,38,40,42,44,46,48,50,52], "tickCount": 100, "format": "d", "labelOverlap": false, "labelExpr": "datum.value % 4 == 0 ? datum.label : ''", "tickSize": {"condition": {"test": "datum.value % 4 != 0", "value": 3}, "value": 5}}}}},
{"data": {"name": "sum"}, "transform": [{"filter": "datum.p=='c'"}],
"encoding": {"x": {"field": "c", "type": "nominal"}},
"layer": [
{"mark": {"type": "rule", "color": "black", "strokeWidth": 1.5}, "encoding": {"y": {"field": "lo", "type": "quantitative"}, "y2": {"field": "hi"}}},
{"mark": {"type": "tick", "color": "black", "size": 26, "thickness": 2.2, "opacity": 1}, "encoding": {"y": {"field": "m", "type": "quantitative"}}},
{"mark": {"type": "tick", "color": "black", "size": 13, "thickness": 1.5, "opacity": 1}, "encoding": {"y": {"field": "lo", "type": "quantitative"}}},
{"mark": {"type": "tick", "color": "black", "size": 13, "thickness": 1.5, "opacity": 1}, "encoding": {"y": {"field": "hi", "type": "quantitative"}}}]},
{"data": {"name": "br"}, "transform": [{"filter": "datum.p=='c'"}],
"layer": [
{"mark": {"type": "rule", "color": "black", "strokeWidth": 1.6, "strokeCap": "square"}, "encoding": {"x": {"field": "c1", "type": "nominal", "bandPosition": 0.5}, "x2": {"field": "c2", "bandPosition": 0.5}, "y": {"field": "top", "type": "quantitative"}}},
{"mark": {"type": "rule", "color": "black", "strokeWidth": 1.6, "strokeCap": "square"}, "encoding": {"x": {"field": "c1", "type": "nominal", "bandPosition": 0.5}, "y": {"field": "top", "type": "quantitative"}, "y2": {"field": "end"}}},
{"mark": {"type": "rule", "color": "black", "strokeWidth": 1.6, "strokeCap": "square"}, "encoding": {"x": {"field": "c2", "type": "nominal", "bandPosition": 0.5}, "y": {"field": "top", "type": "quantitative"}, "y2": {"field": "end"}}},
{"transform": [{"filter": "isValid(datum.cm)"}], "mark": {"type": "text", "fontSize": 14, "fontWeight": "bold", "baseline": "alphabetic", "dy": -1, "color": "black"}, "encoding": {"x": {"field": "cm", "type": "nominal", "bandPosition": 0.5}, "y": {"field": "top", "type": "quantitative"}, "text": {"field": "lab"}}},
{"transform": [{"filter": "!isValid(datum.cm)"}], "mark": {"type": "text", "fontSize": 14, "fontWeight": "bold", "baseline": "alphabetic", "dy": -1, "color": "black"}, "encoding": {"x": {"field": "c1", "type": "nominal", "bandPosition": 1}, "y": {"field": "top", "type": "quantitative"}, "text": {"field": "lab"}}}]}
]
}
], "spacing": 0, "bounds": "flush"},
{"hconcat": [
{"width": 61, "height": 1, "data": {"values": []}, "mark": "point"},
{
"width": 142, "height": 173,
"title": {"text": "(d)", "anchor": "start", "frame": "group", "dx": -37, "fontSize": 18, "fontWeight": "bold", "baseline": "bottom", "offset": -3},
"layer": [
{"data": {"name": "pts"},
"transform": [{"filter": "datum.p=='d'"},{"window": [{"op": "row_number", "as": "r"}], "groupby": ["c","v"]},{"joinaggregate": [{"op": "count", "as": "n"}], "groupby": ["c","v"]},{"calculate": "datum.r-(datum.n+1)/2", "as": "o"}],
"mark": {"type": "point", "shape": "circle", "filled": false, "size": 16, "strokeWidth": 1.2, "color": "#e62b2f", "opacity": 1},
"encoding": {
"x": {"field": "c", "type": "nominal", "scale": {"type": "band", "domain": ["WT, early L1","Cbr-lin-14(ae62)","Cbr-lin-14(ae63)"], "paddingInner": 0, "paddingOuter": 0.167}, "axis": {"title": null, "labelAngle": -45, "labelFontStyle": {"condition": {"test": "indexof(datum.value,'lin')>=0", "value": "italic"}, "value": "normal"}}},
"xOffset": {"field": "o", "type": "quantitative", "scale": {"domain": [-3.28, 3.28], "range": [0, 42.59]}},
"y": {"field": "v", "type": "quantitative", "scale": {"domain": [12, 38], "nice": false, "zero": false}, "axis": {"title": "Intestinal nuclei number", "values": [12,14,16,18,20,22,24,26,28,30,32,34,36,38], "tickCount": 100, "format": "d", "labelOverlap": false}}}},
{"data": {"name": "sum"}, "transform": [{"filter": "datum.p=='d'"}],
"encoding": {"x": {"field": "c", "type": "nominal"}},
"layer": [
{"mark": {"type": "rule", "color": "black", "strokeWidth": 1.5}, "encoding": {"y": {"field": "lo", "type": "quantitative"}, "y2": {"field": "hi"}}},
{"mark": {"type": "tick", "color": "black", "size": 28, "thickness": 2.2, "opacity": 1}, "encoding": {"y": {"field": "m", "type": "quantitative"}}},
{"mark": {"type": "tick", "color": "black", "size": 15, "thickness": 1.5, "opacity": 1}, "encoding": {"y": {"field": "lo", "type": "quantitative"}}},
{"mark": {"type": "tick", "color": "black", "size": 15, "thickness": 1.5, "opacity": 1}, "encoding": {"y": {"field": "hi", "type": "quantitative"}}}]},
{"data": {"name": "br"}, "transform": [{"filter": "datum.p=='d'"}],
"layer": [
{"mark": {"type": "rule", "color": "black", "strokeWidth": 1.6, "strokeCap": "square"}, "encoding": {"x": {"field": "c1", "type": "nominal", "bandPosition": 0.5}, "x2": {"field": "c2", "bandPosition": 0.5}, "y": {"field": "top", "type": "quantitative"}}},
{"mark": {"type": "rule", "color": "black", "strokeWidth": 1.6, "strokeCap": "square"}, "encoding": {"x": {"field": "c1", "type": "nominal", "bandPosition": 0.5}, "y": {"field": "top", "type": "quantitative"}, "y2": {"field": "end"}}},
{"mark": {"type": "rule", "color": "black", "strokeWidth": 1.6, "strokeCap": "square"}, "encoding": {"x": {"field": "c2", "type": "nominal", "bandPosition": 0.5}, "y": {"field": "top", "type": "quantitative"}, "y2": {"field": "end"}}},
{"transform": [{"filter": "datum.lab=='ns'"}], "mark": {"type": "text", "fontSize": 11, "fontWeight": "normal", "baseline": "alphabetic", "dy": -6, "color": "black"}, "encoding": {"x": {"field": "cm", "type": "nominal", "bandPosition": 0.5}, "y": {"field": "top", "type": "quantitative"}, "text": {"field": "lab"}}},
{"transform": [{"filter": "datum.lab!='ns'"}], "mark": {"type": "text", "fontSize": 14, "fontWeight": "bold", "baseline": "alphabetic", "dy": -1, "color": "black"}, "encoding": {"x": {"field": "c1", "type": "nominal", "bandPosition": 1}, "y": {"field": "top", "type": "quantitative"}, "text": {"field": "lab"}}}]}
]
},
{"width": 116, "height": 1, "data": {"values": []}, "mark": "point"},
{
"width": 173, "height": 172,
"title": {"text": "(e)", "anchor": "start", "frame": "group", "dx": -46, "fontSize": 18, "fontWeight": "bold", "baseline": "bottom", "offset": -25},
"layer": [
{"data": {"name": "pts"},
"transform": [{"filter": "datum.p=='e'"},{"window": [{"op": "row_number", "as": "r"}], "groupby": ["c","v"]},{"joinaggregate": [{"op": "count", "as": "n"}], "groupby": ["c","v"]},{"calculate": "datum.r-(datum.n+1)/2", "as": "o"}],
"mark": {"type": "point", "shape": "circle", "filled": false, "size": 16, "strokeWidth": 1.2, "color": "#e62b2f", "opacity": 1},
"encoding": {
"x": {"field": "c", "type": "nominal", "scale": {"type": "band", "domain": ["WT","L3_58","L4_58","L3_59","L4_59"], "paddingInner": 0, "paddingOuter": 0.167}, "axis": {"title": null, "labelExpr": "split(datum.value,'_')[0]", "labelAngle": -45}},
"xOffset": {"field": "o", "type": "quantitative", "scale": {"domain": [-2.49, 2.49], "range": [0, 32.43]}},
"y": {"field": "v", "type": "quantitative", "scale": {"domain": [8, 36], "nice": false, "zero": false}, "axis": {"title": "Seam cell number", "values": [8,12,16,20,24,28,32,36], "tickCount": 100, "format": "d", "labelOverlap": false}}}},
{"data": {"name": "sum"}, "transform": [{"filter": "datum.p=='e'"}],
"encoding": {"x": {"field": "c", "type": "nominal"}},
"layer": [
{"mark": {"type": "rule", "color": "black", "strokeWidth": 1.5}, "encoding": {"y": {"field": "lo", "type": "quantitative"}, "y2": {"field": "hi"}}},
{"mark": {"type": "tick", "color": "black", "size": 22, "thickness": 2.2, "opacity": 1}, "encoding": {"y": {"field": "m", "type": "quantitative"}}},
{"mark": {"type": "tick", "color": "black", "size": 10, "thickness": 1.5, "opacity": 1}, "encoding": {"y": {"field": "lo", "type": "quantitative"}}},
{"mark": {"type": "tick", "color": "black", "size": 10, "thickness": 1.5, "opacity": 1}, "encoding": {"y": {"field": "hi", "type": "quantitative"}}}]},
{"data": {"name": "br"}, "transform": [{"filter": "datum.p=='e'"}],
"layer": [
{"mark": {"type": "rule", "color": "black", "strokeWidth": 1.6, "strokeCap": "square"}, "encoding": {"x": {"field": "c1", "type": "nominal", "bandPosition": 0.5}, "x2": {"field": "c2", "bandPosition": 0.5}, "y": {"field": "top", "type": "quantitative"}}},
{"mark": {"type": "rule", "color": "black", "strokeWidth": 1.6, "strokeCap": "square"}, "encoding": {"x": {"field": "c1", "type": "nominal", "bandPosition": 0.5}, "y": {"field": "top", "type": "quantitative"}, "y2": {"field": "end"}}},
{"mark": {"type": "rule", "color": "black", "strokeWidth": 1.6, "strokeCap": "square"}, "encoding": {"x": {"field": "c2", "type": "nominal", "bandPosition": 0.5}, "y": {"field": "top", "type": "quantitative"}, "y2": {"field": "end"}}},
{"transform": [{"filter": "datum.lab=='ns'"}], "mark": {"type": "text", "fontSize": 11, "fontWeight": "normal", "baseline": "alphabetic", "dy": -6, "color": "black"}, "encoding": {"x": {"field": "c1", "type": "nominal", "bandPosition": 1}, "y": {"field": "top", "type": "quantitative"}, "text": {"field": "lab"}}},
{"transform": [{"filter": "datum.lab!='ns'"}], "mark": {"type": "text", "fontSize": 14, "fontWeight": "bold", "baseline": "alphabetic", "dy": -1, "color": "black"}, "encoding": {"x": {"field": "c1", "type": "nominal", "bandPosition": 1}, "y": {"field": "top", "type": "quantitative"}, "text": {"field": "lab"}}}]},
{"data": {"name": "grp"}, "transform": [{"filter": "datum.p=='e'"},{"calculate": "split(datum.t,'|')", "as": "tl"}],
"mark": {"type": "text", "fontSize": 12, "fontWeight": "bold", "fontStyle": "italic", "baseline": "middle", "align": "center", "angle": 315, "dx": -69.3, "dy": 21, "lineHeight": 15.5, "color": "black"},
"encoding": {"x": {"field": "c1", "type": "nominal", "bandPosition": 1}, "y": {"datum": 8, "type": "quantitative"}, "text": {"field": "tl"}}}
]
},
{"width": 72, "height": 1, "data": {"values": []}, "mark": "point"},
{
"width": 168, "height": 172,
"title": {"text": "(f)", "anchor": "start", "frame": "group", "dx": -44, "fontSize": 18, "fontWeight": "bold", "baseline": "bottom", "offset": -25},
"layer": [
{"data": {"name": "pts"},
"transform": [{"filter": "datum.p=='f'"},{"window": [{"op": "row_number", "as": "r"}], "groupby": ["c","v"]},{"joinaggregate": [{"op": "count", "as": "n"}], "groupby": ["c","v"]},{"calculate": "datum.r-(datum.n+1)/2", "as": "o"}],
"mark": {"type": "point", "shape": "circle", "filled": false, "size": 16, "strokeWidth": 1.2, "color": "#e62b2f", "opacity": 1},
"encoding": {
"x": {"field": "c", "type": "nominal", "scale": {"type": "band", "domain": ["WT","Cbr-lin-14(ae58)|3'UTR Δ","Cbr-lin-14(ae59)|3'UTR Δ","Cbr-lin-4(ae55)"], "paddingInner": 0, "paddingOuter": 0.1}, "axis": {"title": null, "labelAngle": -45, "labelExpr": "split(datum.value,'|')", "labelFontStyle": {"condition": {"test": "indexof(datum.value,'lin')>=0", "value": "italic"}, "value": "normal"}}},
"xOffset": {"field": "o", "type": "quantitative", "scale": {"domain": [-4, 4], "range": [0, 40]}},
"y": {"field": "v", "type": "quantitative", "scale": {"domain": [10, 65], "nice": false, "zero": false}, "axis": {"title": "Intestinal nuclei number", "values": [10,15,20,25,30,35,40,45,50,55,60,65], "tickCount": 100, "format": "d", "labelOverlap": false}}}},
{"data": {"name": "sum"}, "transform": [{"filter": "datum.p=='f'"}],
"encoding": {"x": {"field": "c", "type": "nominal"}},
"layer": [
{"mark": {"type": "rule", "color": "black", "strokeWidth": 1.5}, "encoding": {"y": {"field": "lo", "type": "quantitative"}, "y2": {"field": "hi"}}},
{"mark": {"type": "tick", "color": "black", "size": 28, "thickness": 2.2, "opacity": 1}, "encoding": {"y": {"field": "m", "type": "quantitative"}}},
{"mark": {"type": "tick", "color": "black", "size": 14, "thickness": 1.5, "opacity": 1}, "encoding": {"y": {"field": "lo", "type": "quantitative"}}},
{"mark": {"type": "tick", "color": "black", "size": 14, "thickness": 1.5, "opacity": 1}, "encoding": {"y": {"field": "hi", "type": "quantitative"}}}]},
{"data": {"name": "br"}, "transform": [{"filter": "datum.p=='f'"}],
"layer": [
{"mark": {"type": "rule", "color": "black", "strokeWidth": 1.6, "strokeCap": "square"}, "encoding": {"x": {"field": "c1", "type": "nominal", "bandPosition": 0.5}, "x2": {"field": "c2", "bandPosition": 0.5}, "y": {"field": "top", "type": "quantitative"}}},
{"mark": {"type": "rule", "color": "black", "strokeWidth": 1.6, "strokeCap": "square"}, "encoding": {"x": {"field": "c1", "type": "nominal", "bandPosition": 0.5}, "y": {"field": "top", "type": "quantitative"}, "y2": {"field": "end"}}},
{"mark": {"type": "rule", "color": "black", "strokeWidth": 1.6, "strokeCap": "square"}, "encoding": {"x": {"field": "c2", "type": "nominal", "bandPosition": 0.5}, "y": {"field": "top", "type": "quantitative"}, "y2": {"field": "end"}}},
{"mark": {"type": "text", "fontSize": 14, "fontWeight": "bold", "baseline": "alphabetic", "dy": -1, "color": "black"}, "encoding": {"x": {"field": "c1", "type": "nominal", "bandPosition": 1}, "y": {"field": "top", "type": "quantitative"}, "text": {"field": "lab"}}}]}
]
}
], "spacing": 0, "bounds": "flush"}
],
"config": {
"view": {"stroke": null},
"font": "Liberation Sans",
"axis": {"domainColor": "black", "domainWidth": 2, "tickColor": "black", "tickWidth": 2, "tickSize": 5, "labelColor": "black", "labelFontWeight": "bold", "labelFontSize": 12.5, "titleFontWeight": "bold", "titleFontSize": 14, "titleColor": "black", "grid": false, "labelPadding": 2, "labelOverlap": false, "titlePadding": 5},
"axisY": {"labelFont": "DejaVu Sans", "labelFontSize": 12},
"title": {"color": "black"}
}
}
